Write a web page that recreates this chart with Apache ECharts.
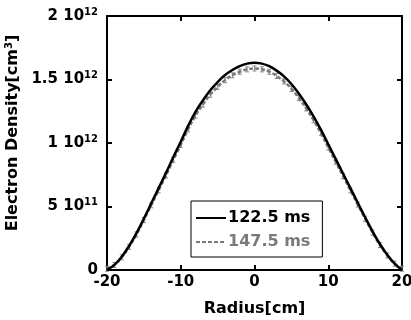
<!DOCTYPE html>
<html>
<head>
<meta charset="utf-8">
<script src="https://cdn.jsdelivr.net/npm/echarts@6/dist/echarts.min.js"></script>
<style>
  html, body { margin: 0; padding: 0; background: #fff; }
  #chart { width: 411px; height: 320px; }
</style>
</head>
<body>
<div id="chart"></div>
<script>
// radius [cm]
const radius = [-20, -19, -18, -17, -16, -15, -14, -13, -12, -11, -10, -9, -8, -7, -6, -5, -4, -3, -2, -1,
  0, 1, 2, 3, 4, 5, 6, 7, 8, 9, 10, 11, 12, 13, 14, 15, 16, 17, 18, 19, 20]
// electron density, units of 1e12 cm^-3
const dens122 = [0.00, 0.04, 0.105, 0.19, 0.29, 0.405, 0.525, 0.645, 0.765, 0.89, 1.01, 1.135, 1.245, 1.335, 1.415, 1.48, 1.535, 1.575, 1.605, 1.625,
  1.632, 1.625, 1.605, 1.57, 1.525, 1.465, 1.39, 1.305, 1.21, 1.105, 0.99, 0.875, 0.76, 0.645, 0.53, 0.415, 0.305, 0.205, 0.12, 0.05, 0.00]
const dens147 = [0.01, 0.04, 0.10, 0.182, 0.28, 0.393, 0.51, 0.628, 0.745, 0.868, 0.985, 1.108, 1.215, 1.303, 1.38, 1.442, 1.495, 1.533, 1.561, 1.58,
  1.587, 1.58, 1.561, 1.528, 1.485, 1.427, 1.355, 1.273, 1.18, 1.078, 0.965, 0.853, 0.74, 0.628, 0.515, 0.403, 0.295, 0.197, 0.115, 0.05, 0.01]
const err147 = 0.02

const SCALE = 1e12
const s122 = radius.map((r, i) => [r, dens122[i] * SCALE])
const s147 = radius.map((r, i) => [r, dens147[i] * SCALE])
const e147 = radius.map((r, i) => [r, (dens147[i] - err147) * SCALE, (dens147[i] + err147) * SCALE])

const font = 'DejaVu Sans, Liberation Sans, sans-serif'

function yLabel(v) {
  if (v === 0) return '{b|0}'
  const exp = Math.floor(Math.log10(v) + 1e-9)
  const mant = Math.round(v / Math.pow(10, exp) * 100) / 100
  return '{b|' + mant + ' 10}{s|' + exp + '}'
}

const chart = echarts.init(document.getElementById('chart'), null, { renderer: 'canvas' })

const axisCommon = {
  axisLine: { show: true, onZero: false, lineStyle: { color: '#000', width: 2 } },
  axisTick: { show: true, inside: true, length: 5, lineStyle: { color: '#000', width: 2 } },
  splitLine: { show: false }
}

chart.setOption({
  animation: false,
  backgroundColor: '#fff',
  textStyle: { fontFamily: font },
  grid: { left: 107, right: 9, top: 16, bottom: 50, containLabel: false, outerBoundsMode: 'none' },
  legend: {
    orient: 'vertical',
    left: 191, top: 201,
    backgroundColor: '#fff',
    borderColor: '#000', borderWidth: 1,
    padding: [9, 12, 7, 4],
    itemWidth: 30, itemHeight: 10, itemGap: 8,
    itemStyle: { opacity: 0 },
    textStyle: { fontFamily: font, fontSize: 16, fontWeight: 'bold', color: '#000', padding: [0, 0, 0, -3] },
    data: [
      { name: '122.5 ms', textStyle: { color: '#000' } },
      { name: '147.5 ms', textStyle: { color: '#7a7a7a' } }
    ]
  },
  xAxis: [
    Object.assign({}, axisCommon, {
      type: 'value', min: -20, max: 20, interval: 10, position: 'bottom',
      name: 'Radius[cm]', nameLocation: 'middle', nameGap: 31,
      nameTextStyle: { fontFamily: font, fontSize: 16, fontWeight: 'bold', color: '#000' },
      axisLabel: { color: '#000', fontFamily: font, fontSize: 15, fontWeight: 'bold', margin: 5 }
    }),
    Object.assign({}, axisCommon, {
      type: 'value', min: -20, max: 20, interval: 10, position: 'top',
      axisLabel: { show: false }
    })
  ],
  yAxis: [
    Object.assign({}, axisCommon, {
      type: 'value', min: 0, max: 2 * SCALE, interval: 0.5 * SCALE, position: 'left',
      name: 'Electron Density[cm{s|3}]', nameLocation: 'middle', nameGap: 84,
      nameTextStyle: {
        fontFamily: font, fontSize: 16, fontWeight: 'bold', color: '#000', padding: [0, 0, 0, 20],
        rich: { s: { fontFamily: font, fontSize: 10, fontWeight: 'bold', color: '#000', verticalAlign: 'top', padding: [0, 0, 6, 0] } }
      },
      axisLabel: {
        margin: 9,
        formatter: yLabel,
        rich: {
          b: { fontFamily: font, fontSize: 15, fontWeight: 'bold', color: '#000' },
          s: { fontFamily: font, fontSize: 10, fontWeight: 'bold', color: '#000', verticalAlign: 'top', padding: [0, 0, 8, 0] }
        }
      }
    }),
    Object.assign({}, axisCommon, {
      type: 'value', min: 0, max: 2 * SCALE, interval: 0.5 * SCALE, position: 'right',
      axisLabel: { show: false }
    })
  ],
  series: [
    {
      name: '122.5 ms', type: 'line', data: s122, smooth: 0.4, symbol: 'none', z: 4,
      lineStyle: { color: '#000', width: 2.5 }, itemStyle: { color: '#000' }
    },
    {
      name: '147.5 ms', type: 'line', data: s147, smooth: 0.4, symbol: 'none', z: 3,
      lineStyle: { color: '#7a7a7a', width: 2.5, type: [4, 2] }, itemStyle: { color: '#7a7a7a' }
    },
    {
      name: '147.5 err', type: 'custom', data: e147, z: 2,
      renderItem: function (params, api) {
        const lo = api.coord([api.value(0), api.value(1)])
        const hi = api.coord([api.value(0), api.value(2)])
        const c = 2
        const st = { stroke: '#888', lineWidth: 1 }
        return {
          type: 'group',
          children: [
            { type: 'line', shape: { x1: lo[0], y1: lo[1], x2: hi[0], y2: hi[1] }, style: st },
            { type: 'line', shape: { x1: lo[0] - c, y1: lo[1], x2: lo[0] + c, y2: lo[1] }, style: st },
            { type: 'line', shape: { x1: hi[0] - c, y1: hi[1], x2: hi[0] + c, y2: hi[1] }, style: st }
          ]
        }
      }
    }
  ]
})
</script>
</body>
</html>
